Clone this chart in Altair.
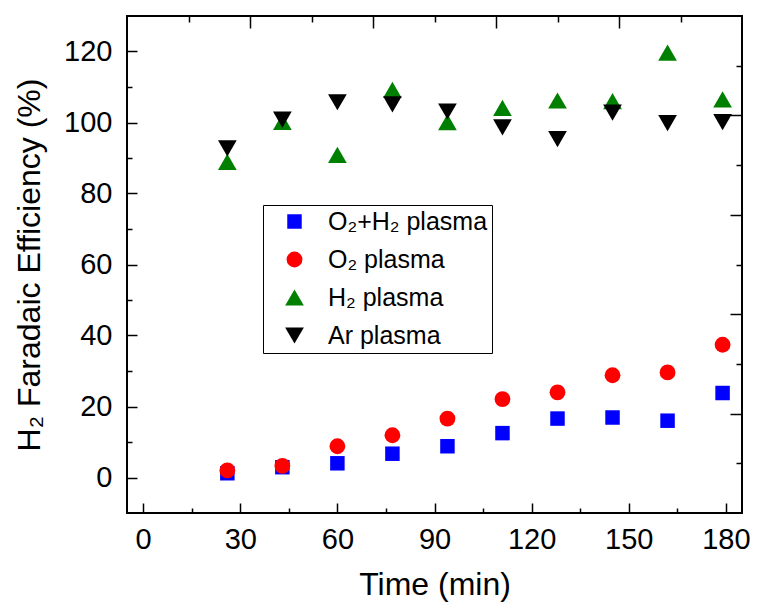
import altair as alt
import pandas as pd

# ---- data ----
time_min = [26, 43, 60, 77, 94, 111, 128, 145, 162, 179]
o2h2_plasma = [1.2, 2.9, 4.0, 6.7, 8.8, 12.5, 16.6, 16.9, 16.0, 23.8]
o2_plasma = [2.0, 3.3, 8.8, 11.9, 16.6, 22.1, 24.0, 28.8, 29.6, 37.4]
h2_plasma = [88.9, 100.2, 90.9, 109.2, 100.1, 104.1, 106.2, 106.0, 119.7, 106.5]
ar_plasma = [92.7, 100.8, 105.7, 105.1, 103.1, 98.6, 95.3, 102.8, 99.8, 100.1]

series_names = ["O₂+H₂ plasma", "O₂ plasma", "H₂ plasma", "Ar plasma"]
x_major = [0, 30, 60, 90, 120, 150, 180]
x_minor = [15, 45, 75, 105, 135, 165]
y_major = [0, 20, 40, 60, 80, 100, 120]
y_minor = [10, 30, 50, 70, 90, 110]
top_long = [33, 71, 109, 147]
top_short = [14, 52, 90, 128, 166]
right_long = [102, 74, 46, 18]
right_short = [116, 88, 60, 32, 4]

rows = []
for name, vals in zip(series_names, [o2h2_plasma, o2_plasma, h2_plasma, ar_plasma]):
    for t, v in zip(time_min, vals):
        rows.append({"time": t, "value": v, "series": name})
df = pd.DataFrame(rows)

FONT = "Liberation Sans"
xs = alt.Scale(domain=[-5, 185], nice=False, zero=False)
ys = alt.Scale(domain=[-10, 130], nice=False, zero=False)

leg = alt.Legend(
    title=None, orient="none", legendX=136, legendY=189,
    padding=4, symbolOffset=15, labelOffset=21, rowPadding=12,
    labelFont=FONT, labelFontSize=25, labelColor="black",
    strokeColor="black", fillColor="white", symbolStrokeWidth=0,
)

base = alt.Chart(df)

points = base.mark_point(filled=True, opacity=1, strokeWidth=0).encode(
    x=alt.X("time:Q", scale=xs, axis=alt.Axis(
        orient="bottom", values=x_major, tickSize=10, offset=-10, domain=False,
        labelFontSize=29, labelPadding=12, labelFlush=False,
        title="Time (min)", titleFontSize=32, titlePadding=15)),
    y=alt.Y("value:Q", scale=ys, axis=alt.Axis(
        orient="left", values=y_major, tickSize=10, offset=-10, domain=False,
        labelFontSize=29, labelPadding=15, labelFlush=False,
        title="H₂ Faradaic Efficiency (%)", titleFontSize=32, titlePadding=17)),
    color=alt.Color("series:N", scale=alt.Scale(
        domain=series_names, range=["#0000FF", "#FF0000", "#008000", "#000000"]), legend=leg),
    shape=alt.Shape("series:N", scale=alt.Scale(
        domain=series_names, range=["square", "circle", "triangle-up", "triangle-down"]), legend=leg),
    size=alt.Size("series:N", scale=alt.Scale(
        type="ordinal", domain=series_names, range=[210, 250, 350, 350]), legend=leg),
)

def tick_layer(xorient, xvals, xlen, yorient, yvals, ylen):
    return base.mark_point(opacity=0).encode(
        x=alt.X("time:Q", scale=xs, axis=alt.Axis(
            orient=xorient, values=xvals, tickSize=xlen, offset=-xlen,
            domain=False, labels=False, title=None)),
        y=alt.Y("value:Q", scale=ys, axis=alt.Axis(
            orient=yorient, values=yvals, tickSize=ylen, offset=-ylen,
            domain=False, labels=False, title=None)),
    )

minor = tick_layer("bottom", x_minor, 5, "left", y_minor, 5)
opp_long = tick_layer("top", top_long, 12, "right", right_long, 12)
opp_short = tick_layer("top", top_short, 6, "right", right_short, 6)

chart = alt.layer(points, minor, opp_long, opp_short).resolve_axis(
    x="independent", y="independent"
).properties(
    width=615, height=497,
    autosize=alt.AutoSizeParams(type="none"),
    padding={"left": 127, "top": 16, "right": 15, "bottom": 97},
    background="white",
).configure_view(
    stroke="black", strokeWidth=2
).configure_axis(
    tickColor="black", tickWidth=1.5, labelColor="black", titleColor="black",
    labelFont=FONT, titleFont=FONT, titleFontWeight="normal", grid=False,
)

chart.save("out.html", embed_options={"renderer": "svg", "actions": False})
